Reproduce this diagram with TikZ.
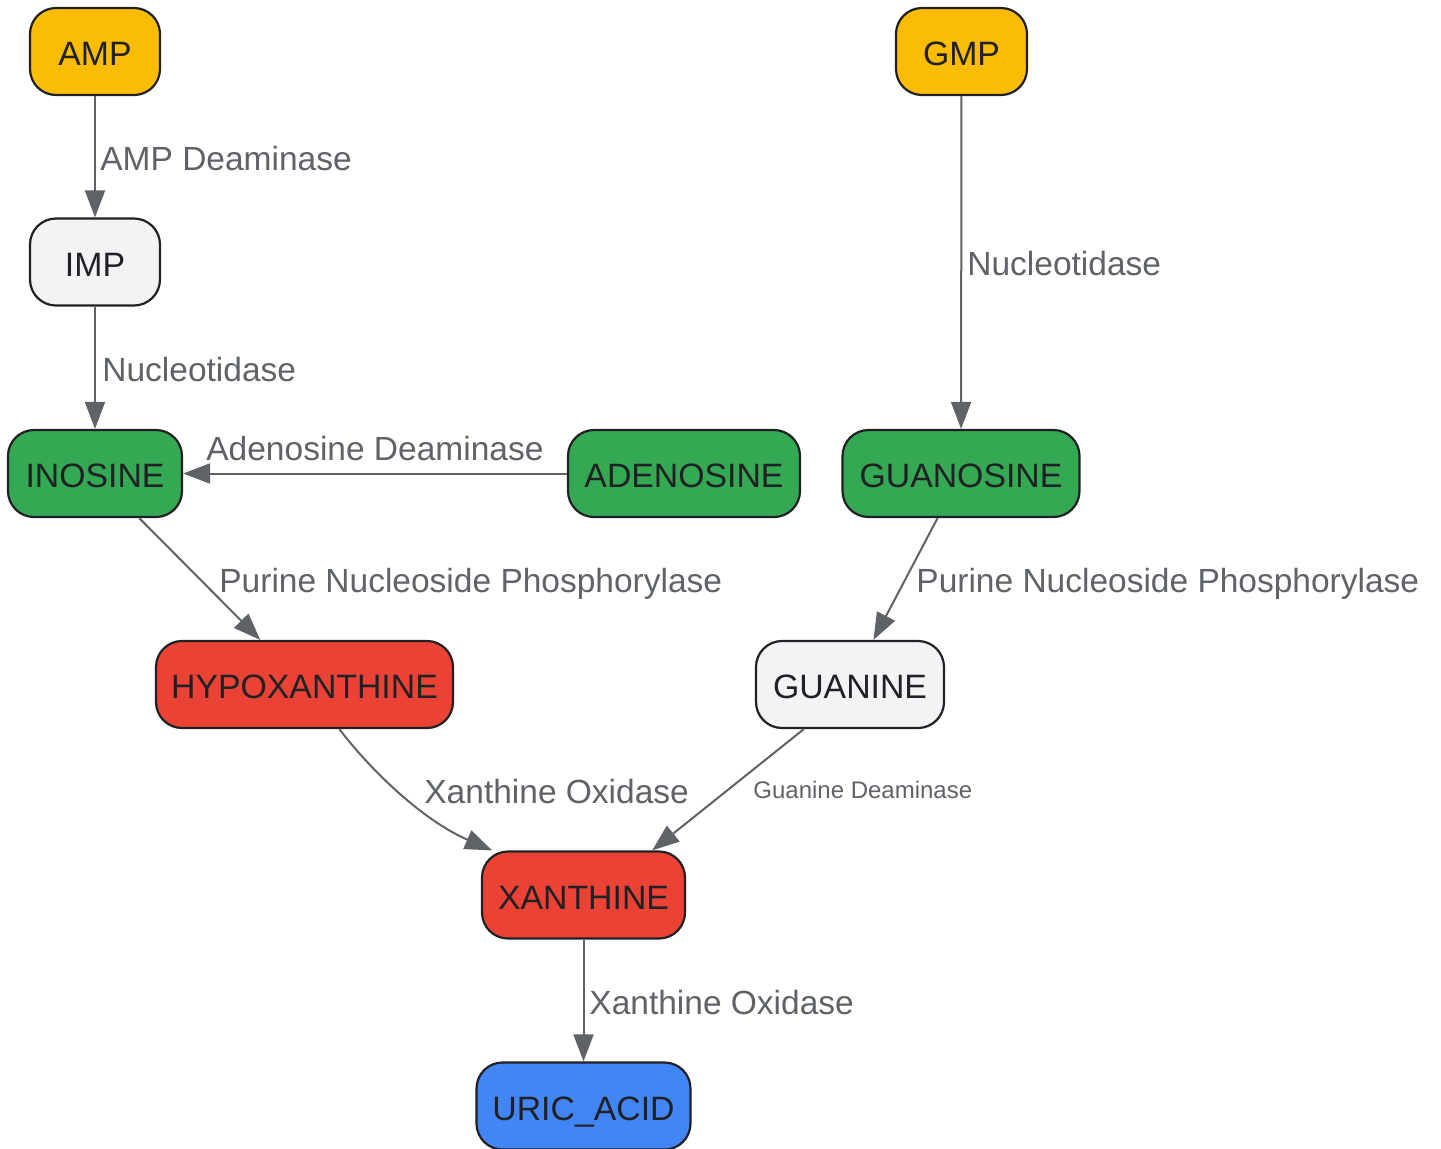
\documentclass[tikz,border=0pt]{standalone}
\usepackage{fontspec}
\setmainfont{Liberation Sans}
\usetikzlibrary{arrows.meta}
\definecolor{cyellow}{HTML}{FBBC04}
\definecolor{cgreen}{HTML}{34A853}
\definecolor{cred}{HTML}{EA4335}
\definecolor{cblue}{HTML}{4285F4}
\definecolor{cgray}{HTML}{F1F3F4}
\definecolor{cborder}{HTML}{202124}
\definecolor{ctext}{HTML}{202124}
\definecolor{cedge}{HTML}{5F6368}
\begin{document}
\begin{tikzpicture}[x=0.5pt,y=-0.5pt,
  box/.style={draw=cborder, line width=1.1pt, rounded corners=13pt, minimum height=43.5pt, inner sep=0pt,
    text=ctext, font=\fontsize{16.9}{20}\selectfont, text height=14pt, text depth=0pt},
  edge/.style={draw=cedge, line width=1pt, -{Triangle[length=13.5pt,width=10pt]}},
  lbl/.style={inner sep=0pt, anchor=west, text=cedge, font=\fontsize{16.75}{20}\selectfont,
    text height=12pt, text depth=0pt},
  smalllbl/.style={inner sep=0pt, anchor=west, text=cedge, font=\fontsize{12}{14}\selectfont,
    text height=8.6pt, text depth=0pt}]
\useasboundingbox[fill=white] (0,0) rectangle (1441,1148);

\node[box, fill=cyellow, minimum width=65pt] (amp) at (95,51.5) {AMP};
\node[box, fill=cgray, minimum width=65pt] (imp) at (95,262) {IMP};
\node[box, fill=cgreen, minimum width=87pt] (inosine) at (95,473.5) {INOSINE};
\node[box, fill=cgreen, minimum width=116pt] (adenosine) at (684,473.5) {ADENOSINE};
\node[box, fill=cyellow, minimum width=65.5pt] (gmp) at (961.5,51.5) {GMP};
\node[box, fill=cgreen, minimum width=118.5pt] (guanosine) at (961,473.5) {GUANOSINE};
\node[box, fill=cred, minimum width=148.5pt] (hypox) at (304.5,684.5) {HYPOXANTHINE};
\node[box, fill=cgray, minimum width=94pt] (guanine) at (850,684.5) {GUANINE};
\node[box, fill=cred, minimum width=101.5pt] (xanthine) at (583.5,895) {XANTHINE};
\node[box, fill=cblue, minimum width=107pt] (uric) at (583.5,1106) {URIC\_ACID};

\draw[edge] (amp) -- (imp);
\draw[edge] (imp) -- (inosine);
\draw[edge] (adenosine) -- (inosine);
\draw[edge] (inosine) -- (hypox);
\draw[edge] (gmp) -- (guanosine);
\draw[edge] (guanosine) -- (guanine);
\draw[edge] (hypox.308) .. controls +(32,42) and +(-69,-30) .. (xanthine.154);
\draw[edge] (guanine.224) -- (xanthine.33);
\draw[edge] (xanthine) -- (uric);

\node[lbl] (l1) at (100,158.5) {AMP Deaminase};
\node[lbl] (l2) at (102,369.5) {Nucleotidase};
\node[lbl] (l3) at (206,448.5) {Adenosine Deaminase};
\node[lbl] (l4) at (219,580.5) {Purine Nucleoside Phosphorylase};
\node[lbl] (l5) at (967,263.5) {Nucleotidase};
\node[lbl] (l6) at (916,580.5) {Purine Nucleoside Phosphorylase};
\node[lbl] (l7) at (424,791.5) {Xanthine Oxidase};
\node[smalllbl] (l8) at (753,790) {Guanine Deaminase};
\node[lbl] (l9) at (589,1002.5) {Xanthine Oxidase};
\end{tikzpicture}
\end{document}
